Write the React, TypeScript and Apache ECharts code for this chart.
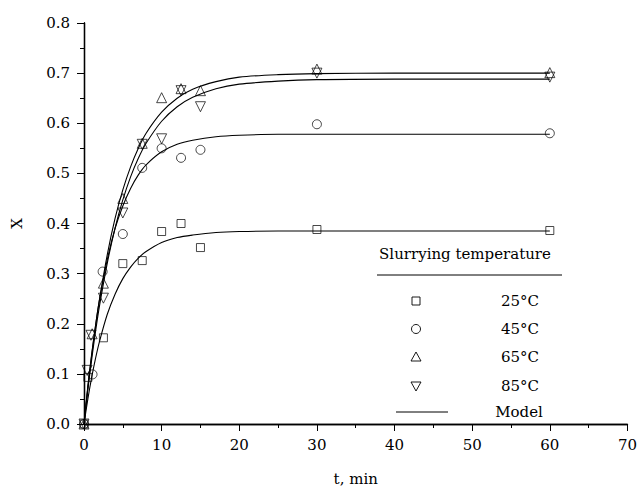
import React, { useEffect, useRef } from "react";
import * as echarts from "echarts";

// Measured data (t in min, X conversion)
const t25 = [0, 0.5, 2.5, 5, 7.5, 10, 12.5, 15, 30, 60];
const x25 = [0, 0.093, 0.172, 0.32, 0.326, 0.384, 0.4, 0.352, 0.388, 0.386];
const t45 = [0, 1.1, 2.4, 5, 7.5, 10, 12.5, 15, 30, 60];
const x45 = [0, 0.099, 0.304, 0.379, 0.511, 0.55, 0.531, 0.547, 0.598, 0.58];
const t65 = [0, 1.05, 2.5, 5, 7.5, 10, 12.5, 15, 30, 60];
const x65 = [0, 0.18, 0.281, 0.45, 0.56, 0.651, 0.669, 0.665, 0.708, 0.701];
const t85 = [0, 0.4, 0.9, 2.5, 5, 7.5, 10, 12.5, 15, 30, 60];
const x85 = [0, 0.107, 0.177, 0.251, 0.421, 0.558, 0.569, 0.665, 0.633, 0.7, 0.692];

// Model curves
const tModel = [0, 0.5, 1, 1.5, 2, 3, 4, 5, 6, 7, 8, 10, 12, 14, 17, 20, 25, 30, 40, 60];
const m25 = [0, 0.05, 0.094, 0.132, 0.165, 0.219, 0.259, 0.29, 0.313, 0.331, 0.344, 0.362, 0.372, 0.377, 0.382, 0.384, 0.385, 0.385, 0.385, 0.385];
const m45 = [0, 0.076, 0.141, 0.198, 0.248, 0.328, 0.39, 0.435, 0.47, 0.497, 0.517, 0.543, 0.558, 0.566, 0.573, 0.576, 0.578, 0.578, 0.578, 0.578];
const m65 = [0, 0.073, 0.138, 0.197, 0.249, 0.338, 0.41, 0.467, 0.513, 0.55, 0.58, 0.622, 0.65, 0.668, 0.683, 0.692, 0.697, 0.699, 0.7, 0.7];
const m85 = [0, 0.069, 0.13, 0.186, 0.236, 0.321, 0.391, 0.447, 0.493, 0.53, 0.56, 0.604, 0.633, 0.652, 0.669, 0.678, 0.684, 0.687, 0.688, 0.688];

const legendTitle = "Slurrying temperature";
const legendLabels = ["25°C", "45°C", "65°C", "85°C"];
const modelLabel = "Model";

const FONT = "DejaVu Serif";
const FS = 15;

const pairs = (xs: number[], ys: number[]) => xs.map((x, i) => [x, ys[i]]);

export default function App() {
  const ref = useRef<HTMLDivElement>(null);
  useEffect(() => {
    const chart = echarts.init(ref.current!, null, { renderer: "svg" });
    const hollow = {
      color: "rgba(0,0,0,0)",
      borderColor: "#000",
      borderWidth: 0.9,
    };
    const scatter = (data: number[][], symbol: string, size: number, rotate = 0) => ({
      type: "scatter",
      data,
      symbol,
      symbolSize: size,
      symbolRotate: rotate,
      itemStyle: hollow,
      z: 3,
    });
    const model = (data: number[][]) => ({
      type: "line",
      data,
      smooth: 0.3,
      showSymbol: false,
      symbol: "none",
      lineStyle: { color: "#000", width: 1.1 },
      z: 2,
    });
    const axisLine = { show: true, lineStyle: { color: "#000", width: 1.3 } };
    const tickLine = { color: "#000", width: 1 };
    const sx = 416;
    const rows = [301, 329, 357, 386];
    const stroke = { fill: "none", stroke: "#000", lineWidth: 0.9 };
    const txt = { color: "#000", fontFamily: FONT, fontSize: FS };
    const gtext = (text: string, x: number, y: number) => ({
      type: "text",
      x,
      y,
      style: {
        text,
        fontFamily: FONT,
        fontSize: FS,
        fill: "#000",
        align: "center",
        verticalAlign: "middle",
      },
    });
    chart.setOption({
      animation: false,
      backgroundColor: "#fff",
      textStyle: { fontFamily: FONT },
      grid: { left: 84, right: 12, top: 23, bottom: 69 },
      xAxis: [
        {
          type: "value",
          min: 0,
          max: 70,
          interval: 10,
          position: "bottom",
          axisLine,
          axisTick: { show: true, inside: false, length: 7, lineStyle: tickLine },
          minorTick: { show: true, splitNumber: 2, length: 4, lineStyle: tickLine },
          splitLine: { show: false },
          axisLabel: { ...txt, margin: 13 },
          name: "t, min",
          nameLocation: "middle",
          nameGap: 47,
          nameTextStyle: txt,
        },
        {
          type: "value",
          min: 0,
          max: 70,
          interval: 10,
          position: "top",
          axisLine,
          axisTick: { show: true, inside: true, length: 3, lineStyle: tickLine },
          minorTick: { show: true, splitNumber: 2, length: 3, lineStyle: tickLine },
          splitLine: { show: false },
          axisLabel: { show: false },
        },
      ],
      yAxis: [
        {
          type: "value",
          min: 0,
          max: 0.8,
          interval: 0.1,
          position: "left",
          axisLine,
          axisTick: { show: true, inside: false, length: 7, lineStyle: tickLine },
          minorTick: { show: true, splitNumber: 2, length: 4, lineStyle: tickLine },
          splitLine: { show: false },
          axisLabel: {
            ...txt,
            margin: 14,
            formatter: (v: number) => v.toFixed(1),
          },
          name: "X",
          nameLocation: "middle",
          nameGap: 60,
          nameTextStyle: txt,
        },
        {
          type: "value",
          min: 0,
          max: 0.8,
          interval: 0.1,
          position: "right",
          axisLine,
          axisTick: { show: true, inside: true, length: 3, lineStyle: tickLine },
          minorTick: { show: true, splitNumber: 2, length: 3, lineStyle: tickLine },
          splitLine: { show: false },
          axisLabel: { show: false },
        },
      ],
      series: [
        model(pairs(tModel, m25)),
        model(pairs(tModel, m45)),
        model(pairs(tModel, m65)),
        model(pairs(tModel, m85)),
        scatter(pairs(t25, x25), "rect", 8),
        scatter(pairs(t45, x45), "circle", 9),
        scatter(pairs(t65, x65), "triangle", 10),
        scatter(pairs(t85, x85), "triangle", 10, 180),
      ],
      graphic: [
        gtext(legendTitle, 465, 254),
        { type: "line", shape: { x1: 377, y1: 275, x2: 562, y2: 275 }, style: { stroke: "#000", lineWidth: 1 } },
        { type: "rect", shape: { x: sx - 4, y: rows[0] - 4, width: 8, height: 8 }, style: stroke },
        { type: "circle", shape: { cx: sx, cy: rows[1], r: 4.5 }, style: stroke },
        {
          type: "polygon",
          shape: { points: [[sx, rows[2] - 5], [sx + 5, rows[2] + 4], [sx - 5, rows[2] + 4]] },
          style: stroke,
        },
        {
          type: "polygon",
          shape: { points: [[sx - 5, rows[3] - 4], [sx + 5, rows[3] - 4], [sx, rows[3] + 5]] },
          style: stroke,
        },
        ...legendLabels.map((lab, i) => gtext(lab, 520, rows[i])),
        { type: "line", shape: { x1: 396, y1: 412, x2: 448, y2: 412 }, style: { stroke: "#000", lineWidth: 1 } },
        gtext(modelLabel, 519, 412),
      ],
    });
    return () => chart.dispose();
  }, []);
  return (
    <div
      ref={ref}
      style={{ position: "fixed", left: 0, top: 0, width: 640, height: 493 }}
    />
  );
}
